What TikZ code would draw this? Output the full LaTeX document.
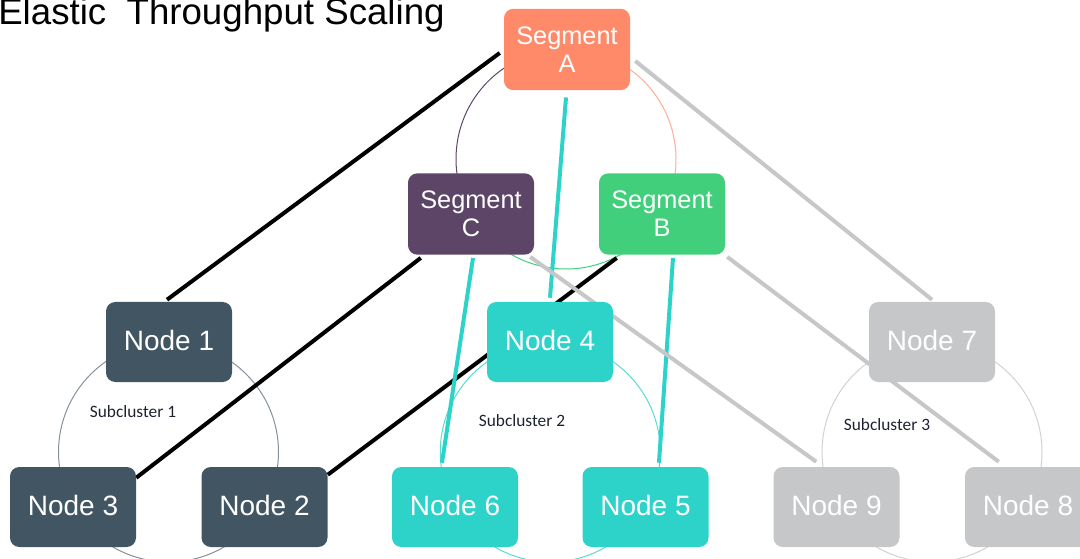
\documentclass[tikz,border=0pt]{standalone}
\usepackage{fontspec}
\setmainfont{Liberation Sans}
\newfontfamily\calibri{Carlito}
\pgfdeclarelayer{bg}
\pgfsetlayers{bg,main}
\definecolor{segA}{HTML}{FF8A6A}
\definecolor{segB}{HTML}{42CF7C}
\definecolor{segC}{HTML}{5C4566}
\definecolor{nodeD}{HTML}{425563}
\definecolor{nodeT}{HTML}{2DD3C9}
\definecolor{nodeG}{HTML}{C5C7C8}
\definecolor{labelc}{HTML}{1E2230}
\begin{document}
\begin{tikzpicture}[x=0.75pt,y=-0.75pt,
  box/.style={rounded corners=7pt, minimum width=94.5pt, minimum height=60pt, inner sep=0pt, text=white, text depth=3pt, font=\fontsize{21}{25}\selectfont},
  seg/.style={rounded corners=7pt, minimum width=94.5pt, minimum height=61pt, inner sep=0pt, text=white, align=center, font=\fontsize{19}{21}\selectfont},
  link/.style={line width=3pt},
  ring/.style={line width=0.75pt},
  sublabel/.style={font=\calibri\fontsize{13}{15}\selectfont, text=labelc, inner sep=0pt}
]
\useasboundingbox (0,0) rectangle (1080,559);

\node[anchor=base west, inner sep=0pt, font=\fontsize{27.5}{30}\selectfont] (title) at (-2,25) {Elastic\ \ Throughput Scaling};

% segments
\node[seg, fill=segA] (A) at (567,49.5) {Segment\\A};
\node[seg, fill=segC] (C) at (471,214) {Segment\\C};
\node[seg, fill=segB] (B) at (662,214) {Segment\\B};

% nodes
\node[box, fill=nodeD] (n1) at (169,342) {Node 1};
\node[box, fill=nodeD] (n3) at (73,507) {Node 3};
\node[box, fill=nodeD] (n2) at (264.5,507) {Node 2};
\node[box, fill=nodeT] (n4) at (550,342) {Node 4};
\node[box, fill=nodeT] (n6) at (455,507) {Node 6};
\node[box, fill=nodeT] (n5) at (645.5,507) {Node 5};
\node[box, fill=nodeG] (n7) at (932,342) {Node 7};
\node[box, fill=nodeG] (n9) at (836.5,507) {Node 9};
\node[box, fill=nodeG] (n8) at (1028,507) {Node 8};

% labels
\node[sublabel] (l1) at (133,412) {Subcluster 1};
\node[sublabel] (l2) at (522,421) {Subcluster 2};
\node[sublabel] (l3) at (887,425) {Subcluster 3};

\begin{pgfonlayer}{bg}
  % rings
  \coordinate (sc) at (566,159);
  \draw[ring, segC] (sc) ++(270:110) arc[start angle=270, end angle=150, radius=110];
  \draw[ring, segB] (sc) ++(150:110) arc[start angle=150, end angle=30, radius=110];
  \draw[ring, segA!70] (sc) ++(30:110) arc[start angle=30, end angle=-90, radius=110];
  \coordinate (c1) at (168.5,452);
  \coordinate (c2) at (550.25,452);
  \coordinate (c3) at (932,452);
  \draw[ring, nodeD!65] (c1) circle[radius=110];
  \draw[ring, nodeT!80] (c2) circle[radius=110];
  \draw[ring, nodeG!80] (c3) circle[radius=110];
  % black links
  \draw[link, black] ([xshift=-3pt,yshift=-2.6pt]A.west) -- ([xshift=-1.5pt,yshift=1.5pt]n1.north);
  \draw[link, black] ([xshift=9.75pt,yshift=-2.25pt]C.south west) -- ([yshift=-8.25pt]n3.north east);
  \draw[link, black] ([xshift=13.5pt,yshift=-2.25pt]B.south west) -- ([yshift=-6pt]n2.north east);
  % turquoise links
  \draw[link, nodeT] ([xshift=-0.75pt,yshift=-5.25pt]A.south) -- ([yshift=3pt]n4.north);
  \draw[link, nodeT] ([xshift=1.5pt,yshift=-2.25pt]C.south) -- ([xshift=-9.75pt,yshift=3pt]n6.north);
  \draw[link, nodeT] ([xshift=8.25pt,yshift=-2.25pt]B.south) -- ([xshift=10.1pt,yshift=3pt]n5.north);
  % gray links
  \draw[link, nodeG] ([xshift=3.75pt,yshift=-8.6pt]A.east) -- ([yshift=1.5pt]n7.north);
  \draw[link, nodeG] ([xshift=-3pt,yshift=-1.5pt]C.south east) -- ([xshift=32.25pt,yshift=3.75pt]n9.north west);
  \draw[link, nodeG] ([xshift=1.5pt,yshift=-1.5pt]B.south east) -- ([xshift=25.5pt,yshift=3.75pt]n8.north west);
\end{pgfonlayer}
\end{tikzpicture}
\end{document}
